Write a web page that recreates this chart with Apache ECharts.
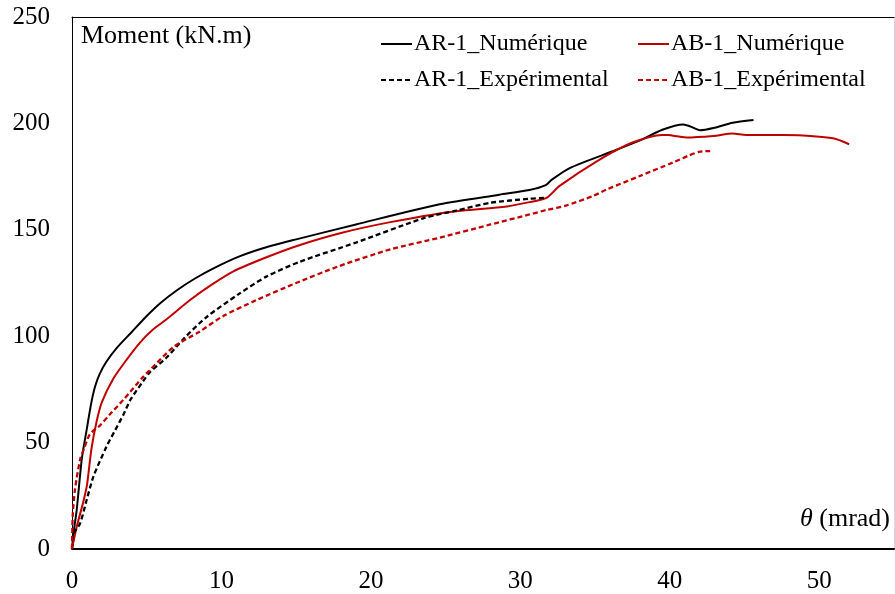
<!DOCTYPE html>
<html>
<head>
<meta charset="utf-8">
<script src="https://cdn.jsdelivr.net/npm/echarts@6/dist/echarts.min.js"></script>
<style>html,body{margin:0;padding:0;background:#fff}#c{width:895px;height:594px}</style>
</head>
<body>
<div id="c"></div>
<script>
// θ (mrad), Moment (kN.m)
const AR1_num = [[0,0],[0.09,7],[0.31,18],[0.65,42],[0.98,56],[1.3,69],[1.55,76.5],[1.87,82.5],[2.3,88],[3.0,94.5],[4.0,102],[5.0,109.5],[5.9,115.5],[7.0,121.5],[8.2,127],[9.5,132],[11.2,137.5],[13,141.8],[15,145.5],[19,152.5],[24.6,162],[28.6,166.5],[30.6,168.7],[31.7,171],[32.1,173.5],[33.3,179],[36.4,187.5],[38,192],[39.5,197],[40.9,199.5],[41.4,198.5],[42,196.8],[43,198],[44.2,200.3],[45.6,201.6]];
const AB1_num = [[0,0],[0.3,10],[0.75,22],[1.0,30],[1.3,47],[1.65,60],[2.0,69],[2.76,80],[3.66,89],[4.55,97],[5.4,103],[6.33,108],[7.9,117],[9.3,124],[10.8,130.5],[12.8,136.5],[15,142.3],[18,148.5],[21.3,153.6],[25.3,158.4],[29.1,161],[30.6,163],[31.75,165],[32.6,170.5],[35.3,183],[37.5,191],[39.5,194.6],[39.9,194.5],[41.1,193.4],[42.9,194.1],[44.2,195.2],[45.1,194.5],[47.6,194.5],[49.8,193.9],[51,192.9],[52,190.2]];
const AR1_exp = [[0,0],[0.09,7],[0.54,12],[0.98,23],[1.43,34],[2.3,48],[2.9,56],[3.43,63],[3.9,70],[4.77,79],[5.2,83],[6.33,90],[7.5,99],[9,109],[11.2,120],[13,128],[15.25,135],[19,144],[23.5,155.4],[25.7,159],[28,162.7],[30.6,164.6],[31.7,165]];
const AB1_exp = [[0,0],[0.05,16],[0.2,28],[0.54,42],[0.8,47],[1.2,54],[1.87,58],[2.5,63],[3.43,70],[4.77,81],[5.2,84],[6.8,95],[8.5,102],[10.1,109.4],[12.35,117],[15,125],[17.9,133],[21.3,140.8],[24.6,146.3],[28,152.5],[30.6,157.2],[31.75,159.3],[33.1,161.5],[34.9,166],[35.8,169],[38,175.3],[40.2,181.6],[41.3,185],[42,186.7],[42.7,187]];
const names = ['AR-1_Numérique','AB-1_Numérique','AR-1_Expérimental','AB-1_Expérimental'];
const xTicks = {min:0, max:55, interval:10};
const yTicks = {min:0, max:250, interval:50};

const FONT = 'Liberation Serif';
const chart = echarts.init(document.getElementById('c'), null, {renderer:'canvas'});
function line(name, data, color, dashed){
  return {name, type:'line', data, showSymbol:false, symbol:'none', smooth:0.25, z: dashed?3:2,
    lineStyle:{color, width: dashed?2.3:2, type: dashed?[5,3]:'solid'}, itemStyle:{color}};
}
const legendCommon = {orient:'vertical', top:27, itemWidth:31, itemHeight:14, itemGap:12,
  itemStyle:{opacity:0, borderWidth:0},
  textStyle:{fontFamily:FONT, fontSize:24, color:'#000', padding:[0,0,0,-3]}};
chart.setOption({
  animation:false,
  backgroundColor:'#fff',
  grid:{left:72, right:1, top:17, bottom:45},
  title:{text:'Moment (kN.m)', left:76, top:18, textStyle:{fontFamily:FONT, fontSize:26, fontWeight:'normal', color:'#000'}},
  legend:[
    Object.assign({data:[names[0],names[2]], left:375}, legendCommon),
    Object.assign({data:[names[1],names[3]], left:632}, legendCommon)
  ],
  graphic:[{type:'text', right:5, top:506, style:{text:'{i|θ} (mrad)', fill:'#000', font:'26px '+FONT,
     rich:{i:{fontFamily:FONT, fontSize:26, fontStyle:'italic', fill:'#000'}}}}],
  xAxis:[
    {type:'value', min:xTicks.min, max:xTicks.max, interval:xTicks.interval, position:'bottom',
     axisLine:{show:true, onZero:false, lineStyle:{color:'#000', width:2}}, axisTick:{show:false},
     splitLine:{show:false},
     axisLabel:{showMaxLabel:false, margin:20, fontFamily:FONT, fontSize:25, color:'#000'}},
    {type:'value', min:xTicks.min, max:xTicks.max, position:'top',
     axisLine:{show:true, onZero:false, lineStyle:{color:'#000', width:1}}, axisTick:{show:false},
     axisLabel:{show:false}, splitLine:{show:false}}
  ],
  yAxis:[
    {type:'value', min:yTicks.min, max:yTicks.max, interval:yTicks.interval, position:'left',
     axisLine:{show:true, onZero:false, lineStyle:{color:'#000', width:1}}, axisTick:{show:false},
     splitLine:{show:false},
     axisLabel:{margin:22, fontFamily:FONT, fontSize:25, color:'#000'}},
    {type:'value', min:yTicks.min, max:yTicks.max, position:'right',
     axisLine:{show:true, onZero:false, lineStyle:{color:'#d9d9d9', width:1}}, axisTick:{show:false},
     axisLabel:{show:false}, splitLine:{show:false}}
  ],
  series:[
    line(names[0], AR1_num, '#000000', false),
    line(names[1], AB1_num, '#c00000', false),
    line(names[2], AR1_exp, '#000000', true),
    line(names[3], AB1_exp, '#c00000', true)
  ]
});
</script>
</body>
</html>
